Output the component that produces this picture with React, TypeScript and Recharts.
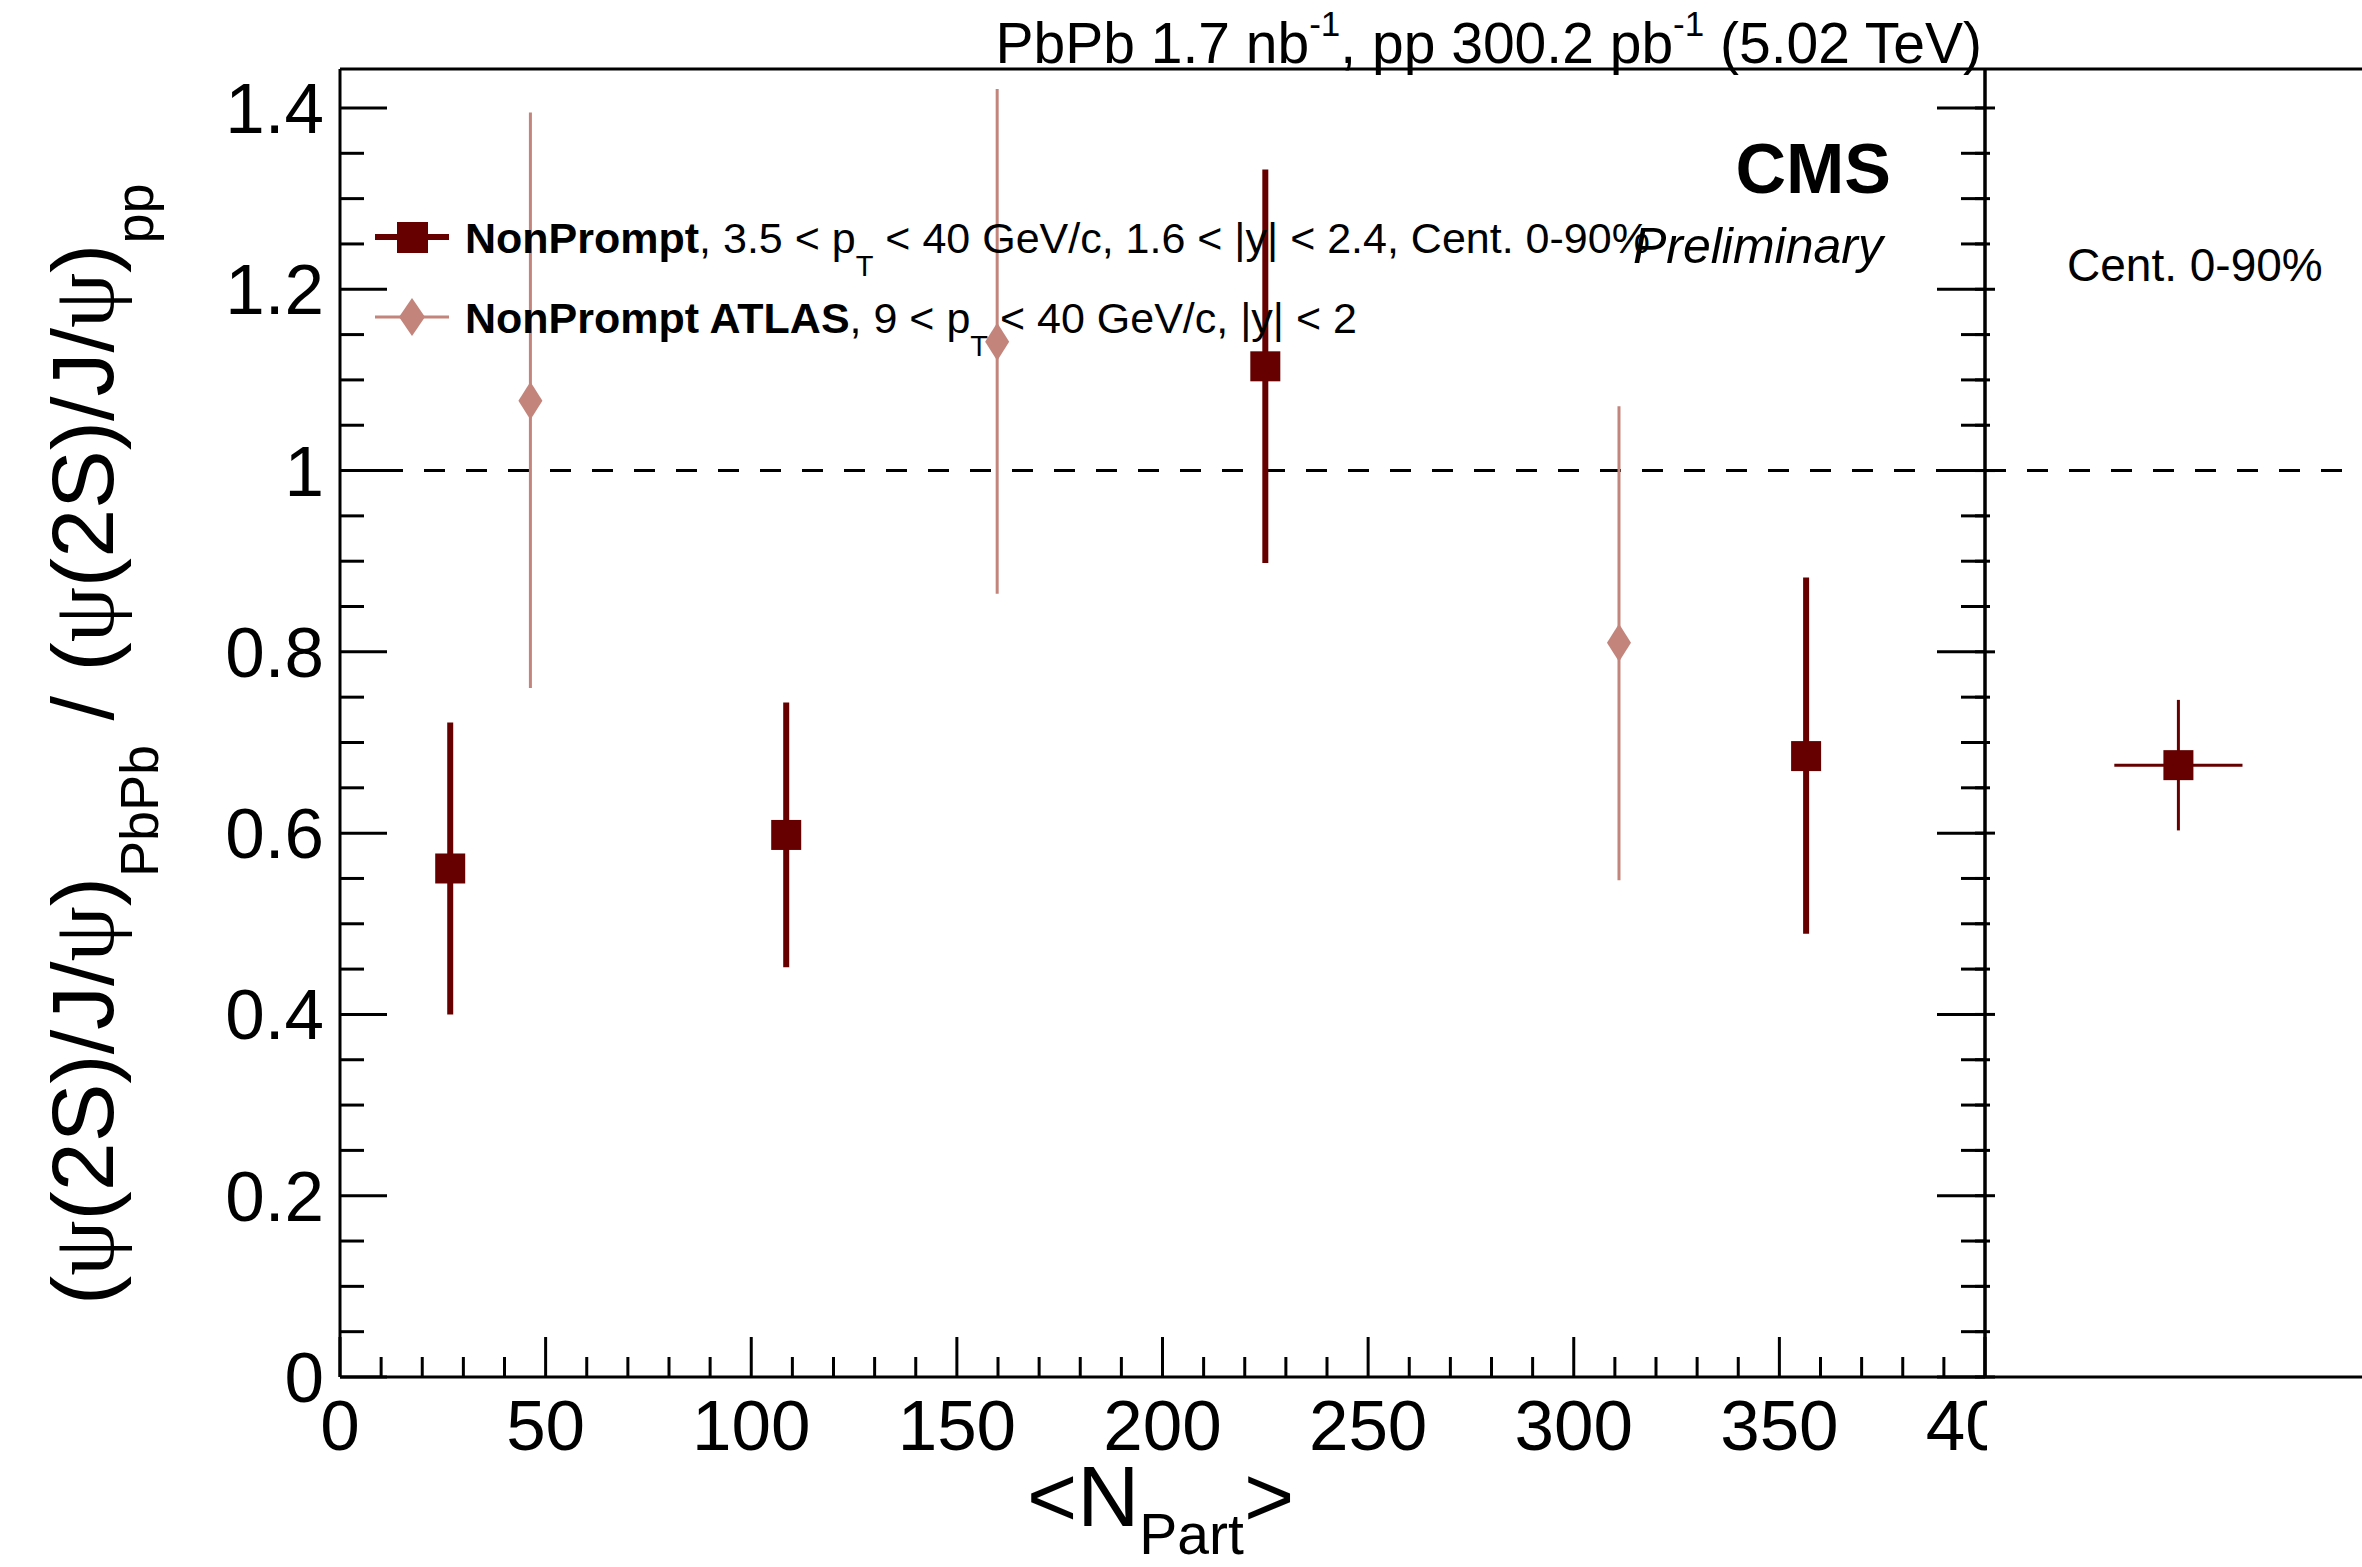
import { ComposedChart, Scatter, XAxis, YAxis, ErrorBar, ReferenceLine } from "recharts";

// CMS non-prompt psi(2S)/J/psi double ratio vs <Npart>
const cmsNpart = [26.8, 108.5, 225, 356.5];
const cmsRatio = [0.561, 0.598, 1.115, 0.685];
const cmsErrLow = [0.161, 0.146, 0.217, 0.196];
const cmsErrHigh = [0.161, 0.146, 0.217, 0.197];

// ATLAS non-prompt
const atlasNpart = [46.3, 159.8, 311];
const atlasRatio = [1.077, 1.142, 0.81];
const atlasErrLow = [0.317, 0.278, 0.262];
const atlasErrHigh = [0.318, 0.279, 0.261];

// integrated Cent. 0-90% (right pad, bin centre in pad units)
const intBin = [0.513];
const intRatio = [0.675];
const intErrY = [0.072];
const intErrX = [0.17];

const xTicks = [0, 10, 20, 30, 40, 50, 60, 70, 80, 90, 100, 110, 120, 130, 140, 150, 160, 170, 180, 190, 200,
  210, 220, 230, 240, 250, 260, 270, 280, 290, 300, 310, 320, 330, 340, 350, 360, 370, 380, 390, 400];
const xMajor = [0, 50, 100, 150, 200, 250, 300, 350, 400];
const xLabels = ["0", "50", "100", "150", "200", "250", "300", "350", "400"];
const yTicks = [0, 0.05, 0.1, 0.15, 0.2, 0.25, 0.3, 0.35, 0.4, 0.45, 0.5, 0.55, 0.6, 0.65, 0.7, 0.75, 0.8,
  0.85, 0.9, 0.95, 1, 1.05, 1.1, 1.15, 1.2, 1.25, 1.3, 1.35, 1.4];
const yMajor = [0, 0.2, 0.4, 0.6, 0.8, 1, 1.2, 1.4];
const yLabels = ["0", "0.2", "0.4", "0.6", "0.8", "1", "1.2", "1.4"];

const W = 2362;
const H = 1567;
const L = 340;
const R = 1985;
const T = 69;
const B = 1377;
const Y_MAX = 1.443;

const FONT = '"Liberation Sans", Arial, Helvetica, sans-serif';
const PSI_FONT = '"Liberation Serif", "DejaVu Serif", serif';
const CMS_RED = "#660000";
const ATLAS_PINK = "#c2847b";
const axisLine = { stroke: "#000", strokeWidth: 3 };

const cmsData = cmsNpart.map((x, i) => ({ x, y: cmsRatio[i], err: [cmsErrLow[i], cmsErrHigh[i]] }));
const atlasData = atlasNpart.map((x, i) => ({ x, y: atlasRatio[i], err: [atlasErrLow[i], atlasErrHigh[i]] }));
const intData = intBin.map((x, i) => ({ x, y: intRatio[i], ex: intErrX[i], ey: intErrY[i] }));

const majorIndex = (list: number[], v: number) => list.findIndex((t) => Math.abs(t - v) < 1e-6);

const BottomTick = (p: any) => {
  const i = majorIndex(xMajor, p.payload.value);
  const len = i >= 0 ? 40 : 20;
  return (
    <g>
      <line x1={p.x} x2={p.x} y1={p.y} y2={p.y - len} stroke="#000" strokeWidth={3} />
      {i >= 0 && (
        <text x={p.x} y={p.y + 73} textAnchor="middle" fontSize={71} fontFamily={FONT} fill="#000">
          {xLabels[i]}
        </text>
      )}
    </g>
  );
};

const TopTick = (p: any) => {
  const len = majorIndex(xMajor, p.payload.value) >= 0 ? 40 : 20;
  return <line x1={p.x} x2={p.x} y1={T} y2={T + len} stroke="#000" strokeWidth={3} />;
};

const LeftTick = (p: any) => {
  const i = majorIndex(yMajor, p.payload.value);
  const len = i >= 0 ? 47 : 24;
  return (
    <g>
      <line x1={p.x} x2={p.x + len} y1={p.y} y2={p.y} stroke="#000" strokeWidth={3} />
      {i >= 0 && (
        <text x={p.x - 16} y={p.y + 25} textAnchor="end" fontSize={71} fontFamily={FONT} fill="#000">
          {yLabels[i]}
        </text>
      )}
    </g>
  );
};

const RightTick = (p: any) => {
  const len = majorIndex(yMajor, p.payload.value) >= 0 ? 48 : 24;
  return <line x1={R - len} x2={R} y1={p.y} y2={p.y} stroke="#000" strokeWidth={3} />;
};

// ticks of the right pad, in its own svg (pad left edge sits at x = 10)
const PadTick = (p: any) => {
  const len = majorIndex(yMajor, p.payload.value) >= 0 ? 10 : 5;
  return <line x1={0} x2={10 + len} y1={p.y} y2={p.y} stroke="#000" strokeWidth={3} />;
};

const Square = (p: any) => <rect x={p.cx - 15} y={p.cy - 15} width={30} height={30} fill={CMS_RED} />;
const Diamond = (p: any) => (
  <polygon
    points={`${p.cx},${p.cy - 19} ${p.cx + 12},${p.cy} ${p.cx},${p.cy + 19} ${p.cx - 12},${p.cy}`}
    fill={ATLAS_PINK}
  />
);

function MainPad() {
  return (
    <ComposedChart width={R + 20} height={H} margin={{ top: T - 1, right: 19, bottom: 0, left: 0 }}>
      <XAxis xAxisId="b" type="number" dataKey="x" domain={[0, 400]} ticks={xTicks} interval={0}
        allowDataOverflow height={H - B} tickLine={false} tickSize={0} tickMargin={0}
        axisLine={axisLine} tick={BottomTick} />
      <XAxis xAxisId="t" orientation="top" type="number" domain={[0, 400]} ticks={xTicks} interval={0}
        allowDataOverflow height={1} tickLine={false} tickSize={0} tickMargin={0}
        axisLine={axisLine} tick={TopTick} />
      <YAxis yAxisId="l" type="number" dataKey="y" domain={[0, Y_MAX]} ticks={yTicks} interval={0}
        allowDataOverflow width={L} tickLine={false} tickSize={0} tickMargin={0}
        axisLine={axisLine} tick={LeftTick} />
      <YAxis yAxisId="r" orientation="right" type="number" domain={[0, Y_MAX]} ticks={yTicks} interval={0}
        allowDataOverflow width={1} tickLine={false} tickSize={0} tickMargin={0}
        axisLine={axisLine} tick={RightTick} />
      <ReferenceLine xAxisId="b" yAxisId="l" y={1} stroke="#000" strokeWidth={3} strokeDasharray="21 21" />
      <Scatter xAxisId="b" yAxisId="l" data={atlasData} shape={Diamond} isAnimationActive={false}>
        <ErrorBar dataKey="err" direction="y" width={0} stroke={ATLAS_PINK} strokeWidth={3} isAnimationActive={false} />
      </Scatter>
      <Scatter xAxisId="b" yAxisId="l" data={cmsData} shape={Square} isAnimationActive={false}>
        <ErrorBar dataKey="err" direction="y" width={0} stroke={CMS_RED} strokeWidth={6} isAnimationActive={false} />
      </Scatter>
    </ComposedChart>
  );
}

function IntegratedPad() {
  return (
    <ComposedChart width={W - R + 10} height={H} margin={{ top: T - 1, right: 0, bottom: 0, left: 9 }}>
      <XAxis xAxisId="b" type="number" dataKey="x" domain={[0, 1]} allowDataOverflow height={H - B}
        tick={false} tickLine={false} axisLine={axisLine} />
      <XAxis xAxisId="t" orientation="top" type="number" domain={[0, 1]} allowDataOverflow height={1}
        tick={false} tickLine={false} axisLine={axisLine} />
      <YAxis yAxisId="l" type="number" dataKey="y" domain={[0, Y_MAX]} ticks={yTicks} interval={0}
        allowDataOverflow width={1} tickLine={false} tickSize={0} tickMargin={0}
        axisLine={axisLine} tick={PadTick} />
      <ReferenceLine xAxisId="b" yAxisId="l" y={1} stroke="#000" strokeWidth={3} strokeDasharray="21 21" />
      <Scatter xAxisId="b" yAxisId="l" data={intData} shape={Square} isAnimationActive={false}>
        <ErrorBar dataKey="ex" direction="x" width={0} stroke={CMS_RED} strokeWidth={3} isAnimationActive={false} />
        <ErrorBar dataKey="ey" direction="y" width={0} stroke={CMS_RED} strokeWidth={3} isAnimationActive={false} />
      </Scatter>
    </ComposedChart>
  );
}

const psi = (k: string) => <tspan key={k} fontFamily={PSI_FONT}>{"\u03c8"}</tspan>;

function Labels() {
  return (
    <svg width={W} height={H} style={{ position: "absolute", left: 0, top: 0, pointerEvents: "none" }}
      fontFamily={FONT} fill="#000">
      <text x={1982} y={63} textAnchor="end" fontSize={57}>
        PbPb 1.7 nb<tspan fontSize={35} dy={-27}>-1</tspan>
        <tspan fontSize={57} dy={27}>, pp 300.2 pb</tspan>
        <tspan fontSize={35} dy={-27}>-1</tspan>
        <tspan fontSize={57} dy={27}> (5.02 TeV)</tspan>
      </text>
      <text x={1891} y={193} textAnchor="end" fontSize={70} fontWeight="bold">CMS</text>
      <text x={1883} y={263} textAnchor="end" fontSize={50} fontStyle="italic">Preliminary</text>
      <text x={2067} y={281} fontSize={46}>Cent. 0-90%</text>

      <line x1={375} x2={449} y1={237} y2={237} stroke={CMS_RED} strokeWidth={6} />
      <rect x={397} y={222} width={31} height={31} fill={CMS_RED} />
      <text x={465} y={253} fontSize={43}>
        <tspan fontWeight="bold">NonPrompt</tspan>
        {", 3.5 < p"}
        <tspan fontSize={29} dy={23}>T</tspan>
        <tspan fontSize={43} dy={-23}>{" < 40 GeV/c, 1.6 < |y| < 2.4, Cent. 0-90%"}</tspan>
      </text>

      <line x1={375} x2={449} y1={317} y2={317} stroke={ATLAS_PINK} strokeWidth={3} />
      <polygon points="412,298 425,317 412,336 399,317" fill={ATLAS_PINK} />
      <text x={465} y={333} fontSize={43}>
        <tspan fontWeight="bold">NonPrompt ATLAS</tspan>
        {", 9 < p"}
        <tspan fontSize={29} dy={23}>T</tspan>
        <tspan fontSize={43} dy={-23}>{" < 40 GeV/c, |y| < 2"}</tspan>
      </text>

      <text x={1027} y={1526} fontSize={86}>
        {"<N"}
        <tspan fontSize={57} dy={28}>Part</tspan>
        <tspan fontSize={86} dy={-28}>{">"}</tspan>
      </text>

      <text transform="translate(113,1305) rotate(-90)" fontSize={88}>
        {"("}{psi("a")}{"(2S)/J/"}{psi("b")}{")"}
        <tspan fontSize={54} dy={45}>PbPb</tspan>
        <tspan fontSize={88} dy={-45}>{" / ("}</tspan>
        {psi("c")}{"(2S)/J/"}{psi("d")}{")"}
        <tspan fontSize={54} dy={40}>pp</tspan>
      </text>
    </svg>
  );
}

export default function App() {
  return (
    <div style={{ position: "absolute", left: 0, top: 0, width: W, height: H, background: "#fff", overflow: "hidden" }}>
      <div style={{ position: "absolute", left: 0, top: 0 }}>
        <MainPad />
      </div>
      <div style={{ position: "absolute", left: R + 2, top: B + 3, width: W - R, height: H - B, background: "#fff" }} />
      <div style={{ position: "absolute", left: R - 10, top: 0 }}>
        <IntegratedPad />
      </div>
      <Labels />
    </div>
  );
}
